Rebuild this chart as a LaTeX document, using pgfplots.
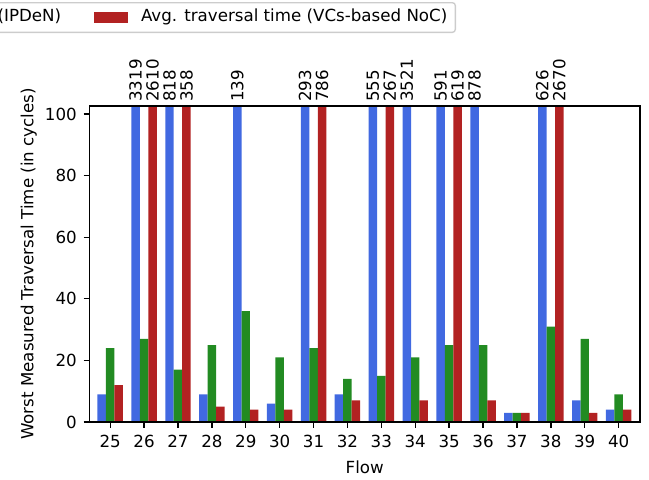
\documentclass[border=0pt]{standalone}
\usepackage{fontspec}
\setmainfont{DejaVu Sans}
\usepackage{pgfplots}
\usepackage{pgfplotstable}
\pgfplotsset{compat=1.18}
\definecolor{cblue}{RGB}{65,105,225}
\definecolor{cgreen}{RGB}{34,139,34}
\definecolor{cred}{RGB}{178,34,34}
\newcommand\F{\fontsize{16.67pt}{20pt}\selectfont}

\pgfplotstableread{
flow blue green red
25 9 24 12
26 3319 27 2610
27 818 17 358
28 9 25 5
29 139 36 4
30 6 21 4
31 293 24 786
32 9 14 7
33 555 15 267
34 3521 21 7
35 591 25 619
36 878 25 7
37 3 3 3
38 626 31 2670
39 7 27 3
40 4 9 4
}\data

\pgfplotstableread{
x y lab
25.75 103.9 3319
26.25 103.9 2610
26.75 103.9 818
27.25 103.9 358
28.75 103.9 139
30.75 103.9 293
31.25 103.9 786
32.75 103.9 555
33.25 103.9 267
33.75 103.9 3521
34.75 103.9 591
35.25 103.9 619
35.75 103.9 878
37.75 103.9 626
38.25 103.9 2670
}\labels

\pgfplotsset{
  mybar/.style={ybar, bar width=0.25, draw=none, restrict y to domain*=0:102.6,
    legend image code/.code={\fill[##1, draw=none, sharp corners] (0pt,-5.5pt) rectangle (33.3pt,5.5pt); \path (46.6pt,0pt);}},
}

\begin{document}
\F
\begin{tikzpicture}
\useasboundingbox (-89.5pt,-58pt) rectangle (559.5pt,422pt);
\clip (-89.5pt,-58pt) rectangle (559.5pt,422pt);
\begin{axis}[
  at={(0pt,0pt)}, anchor=south west,
  scale only axis, width=550.5pt, height=316pt,
  xmin=24.39, xmax=40.63, ymin=0, ymax=102.6,
  clip=false, axis on top,
  xtick={25,...,40}, ytick={0,20,...,100},
  xtick pos=bottom, ytick pos=left,
  tick align=outside, major tick length=5.83pt,
  tick style={line width=1.33pt, black},
  axis line style={line width=1.33pt, black},
  /pgf/number format/assume math mode=true,
  xticklabel style={inner sep=0pt, anchor=north, yshift=-7.2pt},
  yticklabel style={inner sep=0pt, anchor=east, xshift=-6.7pt},
  xlabel={Flow},
  ylabel={Worst Measured Traversal Time (in cycles)},
  xlabel style={at={(axis description cs:0.5,-0.1218)}, anchor=north, inner sep=0pt},
  ylabel style={at={(axis description cs:-0.0954,0.5)}, anchor=south, inner sep=0pt},
  legend columns=3,
  legend style={at={(axis description cs:0.6658,1.3291)}, anchor=north east,
    draw=black!20, line width=1.33pt, rounded corners=3pt, fill=white,
    inner xsep=8pt, inner ysep=6.5pt,
    /tikz/every even column/.append style={column sep=33.3pt},
    nodes={inner sep=0pt, text height=12.7pt, text depth=4pt}},
]
\addplot[mybar, fill=cblue, bar shift=-0.25] table[x=flow, y=blue] {\data};
\addlegendentry{Avg. traversal time (TDM-based NoC)}
\addplot[mybar, fill=cgreen, bar shift=0] table[x=flow, y=green] {\data};
\addlegendentry{Avg. traversal time (IPDeN)}
\addplot[mybar, fill=cred, bar shift=0.25] table[x=flow, y=red] {\data};
\addlegendentry{Avg. traversal time (VCs-based NoC)}
\addplot[forget plot, draw=none, mark=none, nodes near coords, point meta=explicit symbolic,
  every node near coord/.style={rotate=90, anchor=west, inner sep=0pt, black}]
  table[x=x, y=y, meta=lab] {\labels};
\end{axis}
\end{tikzpicture}
\end{document}
